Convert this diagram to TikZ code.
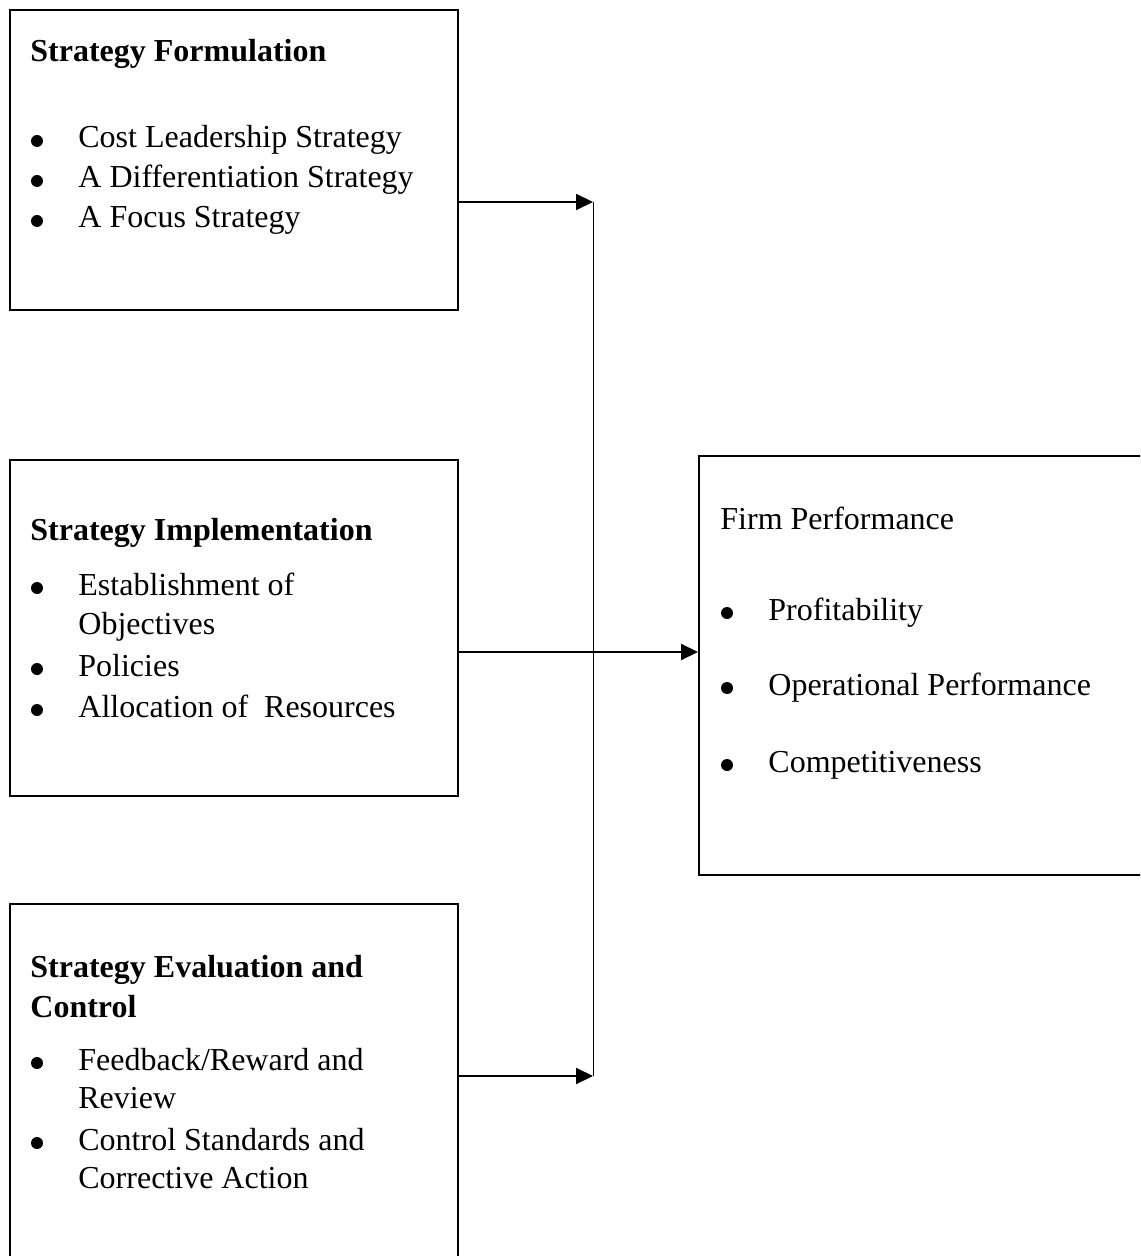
\documentclass[tikz,border=0pt]{standalone}
\usepackage{fontspec}
\setmainfont{Liberation Serif}
\usetikzlibrary{arrows.meta}
\tikzset{
  box/.style={draw, line width=1pt, rectangle, anchor=north west, inner sep=0pt},
  txt/.style={anchor=base west, inner sep=0pt, font=\fontsize{16}{19.5}\selectfont},
  ttl/.style={txt, font=\fontsize{16}{19.5}\selectfont\bfseries},
  bul/.style={circle, fill, inner sep=0pt, minimum size=6pt},
  arr/.style={line width=1pt, -{Triangle[length=8.5pt,width=8pt]}},
  vline/.style={line width=0.5pt}
}
\begin{document}
\begin{tikzpicture}[x=0.5pt,y=-0.5pt]
\useasboundingbox (0,0) rectangle (1140,1256);
\clip (0,0) rectangle (1140,1256);
% boxes
\node[box, minimum width=224pt, minimum height=150pt] (b1) at (9,9) {};
\node[box, minimum width=224pt, minimum height=168pt] (b2) at (9,459) {};
\node[box, minimum width=224pt, minimum height=184pt] (b3) at (9,903) {};
\node[box, minimum width=226pt, minimum height=209.5pt] (b4) at (698,455) {};
% box 1
\node[ttl] (t1) at (30,62) {Strategy Formulation};
\node[bul] (p11) at (37,141) {};
\node[txt] (i11) at (78,148) {Cost Leadership Strategy};
\node[bul] (p12) at (37,181) {};
\node[txt] (i12) at (78,188) {A Differentiation Strategy};
\node[bul] (p13) at (37,221) {};
\node[txt] (i13) at (78,228) {A Focus Strategy};
% box 2
\node[ttl] (t2) at (30,540) {Strategy Implementation};
\node[bul] (p21) at (37,588) {};
\node[txt] (i21) at (78,595) {Establishment of};
\node[txt] (i21b) at (78,634) {Objectives};
\node[bul] (p22) at (37,669) {};
\node[txt] (i22) at (78,676) {Policies};
\node[bul] (p23) at (37,710) {};
\node[txt] (i23) at (78,717) {Allocation of\ \ Resources};
% box 3
\node[ttl] (t3) at (30,977) {Strategy Evaluation and};
\node[ttl] (t3b) at (30,1017) {Control};
\node[bul] (p31) at (37,1063) {};
\node[txt] (i31) at (78,1070) {Feedback/Reward and};
\node[txt] (i31b) at (78,1108) {Review};
\node[bul] (p32) at (37,1143) {};
\node[txt] (i32) at (78,1150) {Control Standards and};
\node[txt] (i32b) at (78,1188) {Corrective Action};
% box 4
\node[txt] (t4) at (720,529) {Firm Performance};
\node[bul] (p41) at (727,613) {};
\node[txt] (i41) at (768,620) {Profitability};
\node[bul] (p42) at (727,688) {};
\node[txt] (i42) at (768,695) {Operational Performance};
\node[bul] (p43) at (727,765) {};
\node[txt] (i43) at (768,772) {Competitiveness};
% connectors
\coordinate (j1) at (593,202);
\coordinate (j3) at (593,1076);
\coordinate (a2) at (457,652);
\draw[vline] (j1) -- (j3);
\draw[arr] (b1.east |- j1) -- (j1);
\draw[arr] (a2) -- (a2 -| b4.west);
\draw[arr] (b3.east |- j3) -- (j3);
\end{tikzpicture}
\end{document}
